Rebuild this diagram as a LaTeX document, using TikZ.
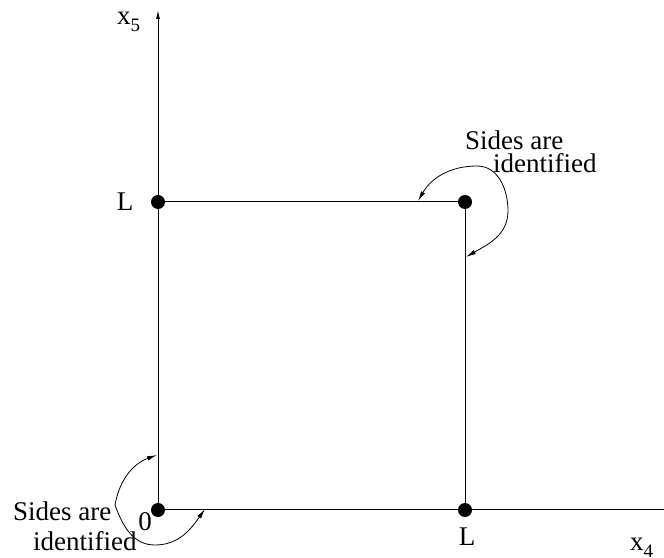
\documentclass[tikz,border=0pt]{standalone}
\usepackage{fontspec}
\setmainfont{Liberation Serif}
\usetikzlibrary{arrows.meta,positioning}
\newcommand{\lowsub}[1]{\raisebox{-7pt}{\fontsize{19}{19}\selectfont #1}}

\begin{document}
\begin{tikzpicture}[x=1pt,y=1pt,
    lab/.style={font=\fontsize{27}{30}\selectfont,inner sep=0pt,anchor=base},
    labw/.style={lab,anchor=base west},
    side/.style={line width=1pt},
    idarrow/.style={line width=0.8pt,{Latex[length=10pt,width=4.5pt]}-{Latex[length=10pt,width=4.5pt]}}]
      \useasboundingbox (0,0) rectangle (664,557);
      % corners of the square and axis ends
      \coordinate (O) at (158,47);
      \coordinate (A) at (465,47);
      \coordinate (B) at (465,355);
      \coordinate (C) at (158,355);
      \coordinate (xend) at (664,47);
      \coordinate (yend) at (158,547);
      \draw[side,-{Latex[length=9pt,width=4pt]}] (O) -- (yend);
      \draw[side] (O) -- (xend);
      \draw[side] (C) -- (B) -- (A);
      \foreach \p in {O,A,B,C}
        \fill (\p) circle (7);
      % labels
      \node[labw] (lx5) at (117,532) {x\lowsub{5}};
      \node[labw] (lx4) at (630,7) {x\lowsub{4}};
      \node[lab] (lLy) at (125,346) {L};
      \node[lab] (lLx) at (467,12) {L};
      \node[lab] (lzero) at (145,27) {0};
      \node[labw] (tside1) at (465,407) {Sides are};
      \node[labw] (tside2) at (493,384) {identified};
      \node[labw] (bside1) at (13,36) {Sides are};
      \node[labw] (bside2) at (33,6) {identified};
      % identified sides
      \coordinate (t1) at (418,356);
      \coordinate (t2) at (466,300);
      \coordinate (b1) at (157,102);
      \coordinate (b2) at (205,48);
      \draw[idarrow] (t1) to[out=60,in=180] (477,391) to[out=0,in=90] (508,346) to[out=-90,in=30] (t2);
      \draw[idarrow] (b1) to[out=200,in=80] (115,52) to[out=-70,in=180] (155,12) to[out=0,in=-125] (b2);
    \end{tikzpicture}
\end{document}
